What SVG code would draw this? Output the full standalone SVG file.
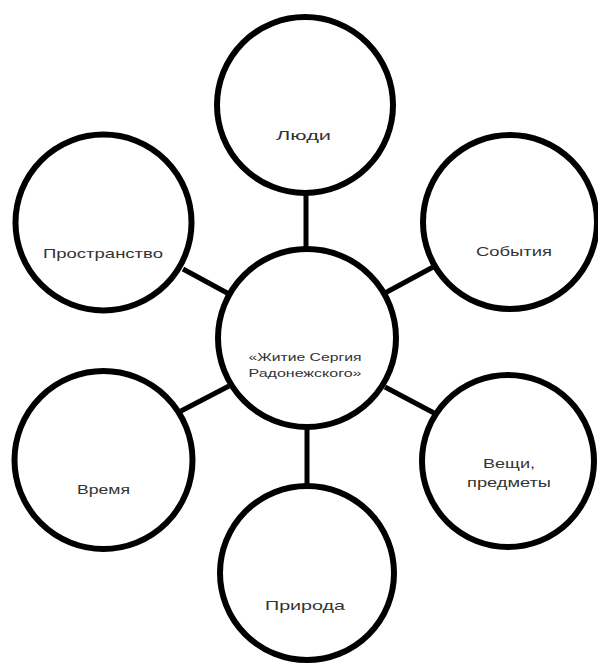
<svg xmlns="http://www.w3.org/2000/svg" width="598" height="664" viewBox="0 0 598 664">
<style>
.n{fill:#fff;stroke:#000;stroke-width:6}
.c{stroke:#000;stroke-width:5;fill:none}
text{font-family:"Liberation Sans","Open Sans",sans-serif;font-size:13px;fill:#333;text-anchor:middle}
.s{font-size:10.5px}
</style>
<rect width="598" height="664" fill="#fff"/>
<g id="connectors">
<line class="c" x1="306" y1="192" x2="306" y2="250"/>
<line class="c" x1="183" y1="269" x2="229" y2="294"/>
<line class="c" x1="435" y1="266" x2="385" y2="293"/>
<line class="c" x1="385" y1="387" x2="434" y2="413"/>
<line class="c" x1="181" y1="411" x2="229" y2="386"/>
<line class="c" x1="307" y1="428" x2="307" y2="487"/>
</g>
<g id="center">
<circle class="n" cx="307" cy="338" r="89"/>
<text class="s" x="305" y="361" textLength="113" lengthAdjust="spacingAndGlyphs">«Житие  Сергия</text>
<text class="s" x="305" y="377" textLength="113" lengthAdjust="spacingAndGlyphs">Радонежского»</text>
</g>
<g id="lyudi">
<circle class="n" cx="305" cy="105" r="88"/>
<text x="303.5" y="140" textLength="55" lengthAdjust="spacingAndGlyphs">Люди</text>
</g>
<g id="prostranstvo">
<circle class="n" cx="103.5" cy="222.5" r="88"/>
<text x="103" y="258" textLength="120" lengthAdjust="spacingAndGlyphs">Пространство</text>
</g>
<g id="sobytiya">
<circle class="n" cx="510" cy="222" r="87"/>
<text x="514" y="256" textLength="76" lengthAdjust="spacingAndGlyphs">События</text>
</g>
<g id="veshchi">
<circle class="n" cx="508" cy="461" r="86"/>
<text x="509" y="468" textLength="52" lengthAdjust="spacingAndGlyphs">Вещи,</text>
<text x="509" y="487" textLength="84" lengthAdjust="spacingAndGlyphs">предметы</text>
</g>
<g id="vremya">
<circle class="n" cx="103.5" cy="460" r="89"/>
<text x="103.5" y="494" textLength="53" lengthAdjust="spacingAndGlyphs">Время</text>
</g>
<g id="priroda">
<circle class="n" cx="307" cy="573" r="87"/>
<text x="305" y="610" textLength="80" lengthAdjust="spacingAndGlyphs">Природа</text>
</g>
</svg>
